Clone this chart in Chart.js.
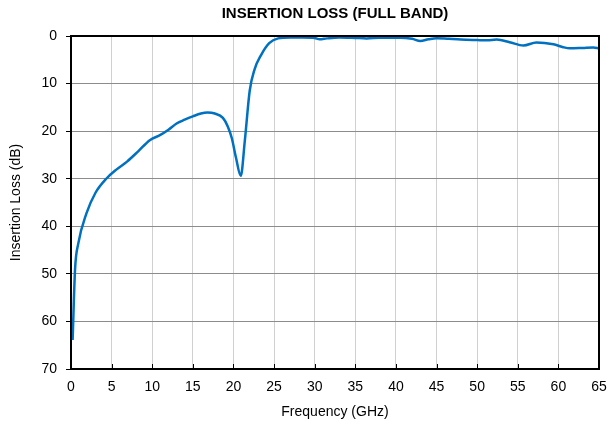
<!DOCTYPE html>
<html>
<head>
<meta charset="utf-8">
<script src="https://cdn.jsdelivr.net/npm/chart.js@4"></script>
<style>
  html, body { margin: 0; padding: 0; background: #fff; }
  #wrap { width: 609px; height: 431px; position: relative; }
</style>
</head>
<body>
<div id="wrap"><canvas id="chart"></canvas></div>
<script>
// values
const freqGHz = [0.2, 0.5, 0.9, 1.9, 3, 4.4, 5.5, 6.9, 8.3, 9.7, 11, 12, 13, 14, 15, 16, 16.8, 17.7, 18.7,
  19.3, 19.8, 20.3, 20.9, 21.4, 22, 22.6, 23.4, 24.4, 25.5, 27, 28.5, 30, 30.6, 31.5, 33, 35, 36.4, 38,
  40.5, 42, 43, 44, 45, 46.5, 48, 50, 51.2, 52.4, 54, 55.7, 57.3, 59.4, 60.5, 61.4, 63, 64.3, 65];
const lossDb = [63.9, 49, 43.6, 37.3, 33, 29.9, 28.2, 26.4, 24.2, 21.9, 20.8, 19.7, 18.4, 17.6, 16.9, 16.3, 16.1, 16.3, 17.2,
  19, 21.5, 25.5, 29.4, 22, 11.5, 7, 4, 1.5, 0.5, 0.3, 0.3, 0.4, 0.7, 0.5, 0.3, 0.4, 0.5, 0.35,
  0.35, 0.6, 1.05, 0.7, 0.45, 0.6, 0.75, 0.85, 0.9, 0.75, 1.3, 2.0, 1.35, 1.75, 2.3, 2.6, 2.5, 2.4, 2.6];
const xTicks = [0, 5, 10, 15, 20, 25, 30, 35, 40, 45, 50, 55, 60, 65];
const yTicks = [0, 10, 20, 30, 40, 50, 60, 70];
const titleText = 'INSERTION LOSS (FULL BAND)';

const font = 'Arial, "Liberation Sans", sans-serif';

// title over the plot, black frame, small inside ticks on the x axis
const frame = {
  id: 'frame',
  afterDatasetsDraw(chart) {
    const { ctx, chartArea: a, scales: { x } } = chart;
    ctx.save();
    ctx.strokeStyle = '#000';
    ctx.lineWidth = 1;
    xTicks.forEach(v => {
      const px = Math.round(x.getPixelForValue(v)) + 0.5;
      ctx.beginPath();
      ctx.moveTo(px, a.bottom);
      ctx.lineTo(px, a.bottom - 5);
      ctx.stroke();
    });
    ctx.lineWidth = 2;
    ctx.strokeRect(a.left, a.top, a.right - a.left, a.bottom - a.top);
    ctx.fillStyle = '#000';
    ctx.font = 'bold 15px ' + font;
    ctx.textAlign = 'center';
    ctx.textBaseline = 'middle';
    ctx.fillText(titleText, (a.left + a.right) / 2, 14);
    ctx.restore();
  }
};

new Chart(document.getElementById('chart'), {
  type: 'line',
  data: {
    datasets: [{
      data: freqGHz.map((f, i) => ({ x: f, y: lossDb[i] })),
      borderColor: '#0070c0',
      borderWidth: 2.5,
      pointRadius: 0,
      cubicInterpolationMode: 'monotone',
      fill: false
    }]
  },
  options: {
    responsive: true,
    maintainAspectRatio: false,
    animation: false,
    layout: { padding: { left: 0, right: 10, top: 36, bottom: 0 } },
    plugins: {
      legend: { display: false },
      tooltip: { enabled: false },
      title: { display: false }
    },
    scales: {
      x: {
        type: 'linear',
        min: 0, max: 65,
        afterBuildTicks: s => { s.ticks = xTicks.map(v => ({ value: v })); },
        afterFit: s => { s.height = 62; s.paddingLeft = 0; s.paddingRight = 0; },
        grid: { color: '#d0d0d0', lineWidth: 1, drawTicks: false },
        border: { display: false },
        ticks: { color: '#000', padding: 10, maxRotation: 0, font: { family: font, size: 14 } },
        title: {
          display: true, text: 'Frequency (GHz)', color: '#000',
          font: { family: font, size: 14, lineHeight: 1.2 },
          padding: { top: 0, bottom: 10 }
        }
      },
      y: {
        type: 'linear',
        reverse: true,
        min: 0, max: 70,
        afterBuildTicks: s => { s.ticks = yTicks.map(v => ({ value: v })); },
        afterFit: s => { s.width = 71; s.paddingTop = 0; s.paddingBottom = 0; },
        grid: { color: '#8c8c8c', lineWidth: 1, tickColor: '#000', tickLength: 5 },
        border: { display: false },
        ticks: { color: '#000', padding: 9, font: { family: font, size: 14 } },
        title: {
          display: true, text: 'Insertion Loss (dB)', color: '#000',
          font: { family: font, size: 14, lineHeight: 1.2 },
          padding: { top: 8, bottom: 0 }
        }
      }
    }
  },
  plugins: [frame]
});
</script>
</body>
</html>
